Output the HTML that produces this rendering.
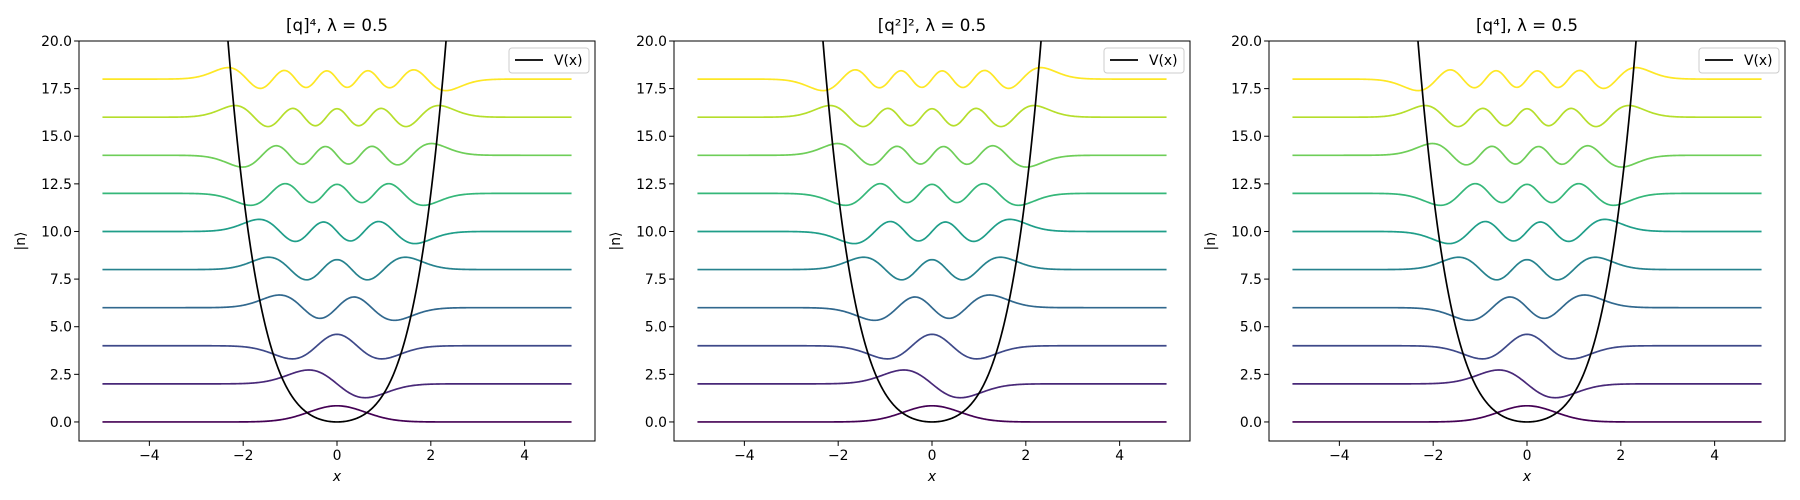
<!DOCTYPE html>
<html><head><meta charset="utf-8"><style>
html,body{margin:0;padding:0;background:#fff}
svg{display:block;font-family:"DejaVu Sans","Liberation Sans",sans-serif}
</style></head><body>
<svg id="fig" width="1800" height="500" viewBox="0 0 1800 500" xmlns="http://www.w3.org/2000/svg"></svg>
<script>
const panelTitles = ["[q]⁴", "[q²]²", "[q⁴]"];
const levels = [0,1,2,3,4,5,6,7,8,9];
const offsets = [0,2,4,6,8,10,12,14,16,18];
const signsP1 = [1,-1,-1,-1,1,-1,-1,1,1,-1];
const signsP2 = [1,-1,-1,1,1,1,-1,-1,1,1];
const signsP3 = [1,-1,-1,1,1,1,-1,-1,1,1];
const potentialCoeffs = [1, 0.5];
const lambdaVal = 0.5;
const xTicks = [-4,-2,0,2,4];
const yTicks = [0,2.5,5,7.5,10,12.5,15,17.5,20];
const yTickLabels = ["0.0","2.5","5.0","7.5","10.0","12.5","15.0","17.5","20.0"];
const colors = ["#440154","#482878","#3e4989","#31688e","#26828e","#1f9e89","#35b779","#6ece58","#b5de2b","#fde725"];
const alpha = 1.66, amp = 1.13;

const NS="http://www.w3.org/2000/svg";
const svg=document.getElementById('fig');
function mk(tag,attrs,parent){const e=document.createElementNS(NS,tag);for(const k in attrs)e.setAttribute(k,attrs[k]);(parent||svg).appendChild(e);return e;}
function psi(n,xi){let p0=Math.pow(Math.PI,-0.25)*Math.exp(-xi*xi/2);if(n===0)return p0;let p1=Math.SQRT2*xi*p0;for(let k=2;k<=n;k++){const p2=Math.sqrt(2/k)*xi*p1-Math.sqrt((k-1)/k)*p0;p0=p1;p1=p2;}return p1;}

const panelLefts=[79,674,1269], W=516, axTop=41, axBottom=441;
const allSigns=[signsP1,signsP2,signsP3];
panelLefts.forEach((L,pi)=>{
  const g=mk('g',{});
  
  
  const sx=x=>L+(x+5.5)/11*W;
  const sy=y=>axBottom-(y+1)/21*(axBottom-axTop);
  const clip=mk('clipPath',{id:'c'+pi},g);
  mk('rect',{x:L,y:axTop,width:W,height:axBottom-axTop},clip);
  const plot=mk('g',{'clip-path':'url(#c'+pi+')'},g);
  levels.forEach((n,i)=>{
    let d='';
    for(let k=0;k<=500;k++){const x=-5+10*k/500;const y=offsets[i]+allSigns[pi][i]*amp*psi(n,alpha*x);d+=(k?'L':'M')+sx(x).toFixed(2)+','+sy(y).toFixed(2);}
    const p=mk('path',{d:d,fill:'none',stroke:colors[i],'stroke-width':1.7},plot);
    
    
  });
  let d='';
  for(let k=0;k<=600;k++){const x=-5+10*k/600;const v=potentialCoeffs[0]*x*x+potentialCoeffs[1]*x*x*x*x;d+=(k?'L':'M')+sx(x).toFixed(2)+','+sy(Math.min(v,40)).toFixed(2);}
  const vp=mk('path',{d:d,fill:'none',stroke:'#000','stroke-width':1.7},plot);
  
  
  const fr=mk('rect',{x:L,y:axTop,width:W,height:axBottom-axTop,fill:'none',stroke:'#000','stroke-width':1},g);
  
  
  xTicks.forEach(t=>{
    mk('line',{x1:sx(t),x2:sx(t),y1:axBottom,y2:axBottom+4.9,stroke:'#000','stroke-width':1},g);
    const tx=mk('text',{x:sx(t),y:axBottom+19,'font-size':13.9,'text-anchor':'middle'},g);
    tx.textContent=(t<0?'−'+(-t):t);
    
    
  });
  yTicks.forEach((t,j)=>{
    mk('line',{x1:L-4.9,x2:L,y1:sy(t),y2:sy(t),stroke:'#000','stroke-width':1},g);
    const tx=mk('text',{x:L-7,y:sy(t)+5,'font-size':13.9,'text-anchor':'end'},g);
    tx.textContent=yTickLabels[j];
    
    
  });
  const xl=mk('text',{x:L+W/2,y:481,'font-size':13.9,'text-anchor':'middle','font-style':'italic'},g);
  xl.textContent='x';
  
  
  const yl=mk('text',{x:0,y:0,'font-size':13.9,'text-anchor':'middle',transform:'translate('+(L-54)+','+((axTop+axBottom)/2)+') rotate(-90)'},g);
  yl.textContent='|n⟩';
  
  
  const ti=mk('text',{x:L+W/2,y:31,'font-size':16.7,'text-anchor':'middle'},g);
  ti.textContent=panelTitles[pi]+', λ = '+lambdaVal;
  
  
  const lg=mk('g',{},g);
  
  
  mk('rect',{x:L+W-86,y:48,width:80,height:25,rx:3,fill:'#fff','fill-opacity':0.8,stroke:'#ccc','stroke-width':1},lg);
  mk('line',{x1:L+W-80,x2:L+W-52,y1:60,y2:60,stroke:'#000','stroke-width':1.7},lg);
  const lt=mk('text',{x:L+W-41,y:65,'font-size':13.9},lg);
  lt.textContent='V(x)';
  
  
});
</script>
</body></html>
